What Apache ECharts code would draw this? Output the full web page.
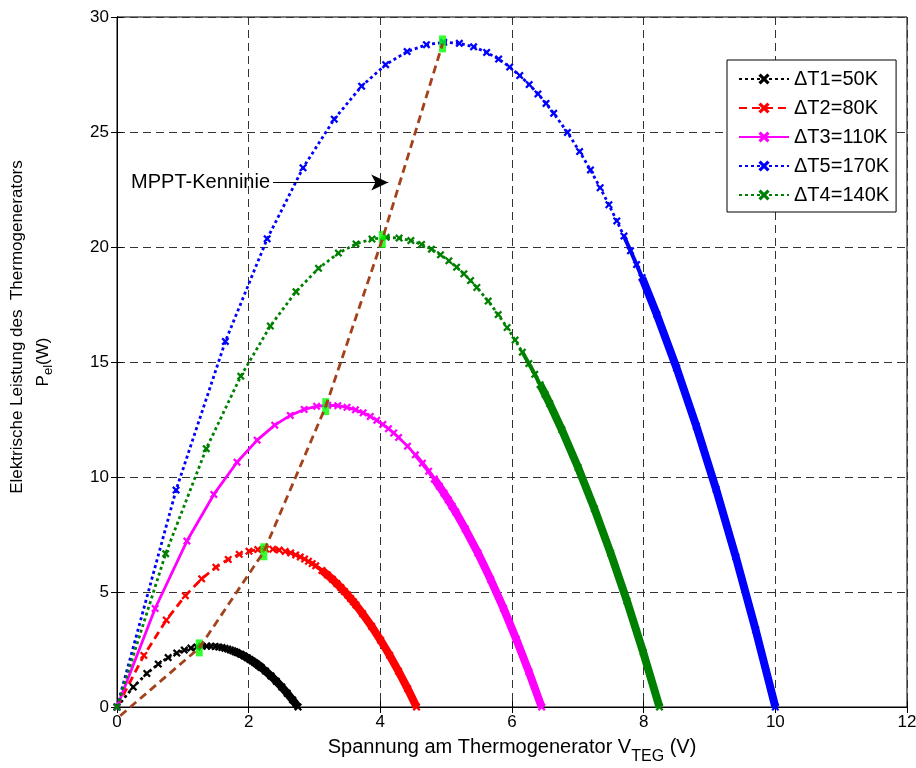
<!DOCTYPE html>
<html>
<head>
<meta charset="utf-8">
<script src="https://cdn.jsdelivr.net/npm/echarts@6.0.0/dist/echarts.min.js"></script>
<style>
  html, body { margin: 0; padding: 0; background: #fff; }
  #chart { width: 916px; height: 768px; }
</style>
</head>
<body>
<div id="chart"></div>
<script>
// values (V in volt, P in watt)
const t1V = [0, 0.247, 0.453, 0.627, 0.777, 0.908, 1.022, 1.122, 1.212, 1.293, 1.365, 1.430, 1.490, 1.544, 1.594, 1.640, 1.682, 1.722, 1.758, 1.792, 1.824, 1.882, 1.932, 1.978, 2.018, 2.055, 2.088, 2.118, 2.145, 2.170, 2.193, 2.255, 2.338, 2.420, 2.503, 2.585, 2.668, 2.750]
const t1P = [0, 0.865, 1.458, 1.867, 2.150, 2.344, 2.475, 2.561, 2.613, 2.640, 2.650, 2.646, 2.632, 2.610, 2.583, 2.551, 2.518, 2.481, 2.444, 2.406, 2.367, 2.291, 2.214, 2.141, 2.070, 2.002, 1.938, 1.877, 1.819, 1.764, 1.712, 1.565, 1.352, 1.119, 0.868, 0.598, 0.308, 0]

const t2V = [0, 0.408, 0.749, 1.038, 1.286, 1.502, 1.690, 1.857, 2.005, 2.139, 2.258, 2.366, 2.465, 2.555, 2.638, 2.714, 2.784, 2.849, 2.909, 2.965, 3.018, 3.113, 3.197, 3.272, 3.339, 3.400, 3.454, 3.504, 3.549, 3.591, 3.629, 3.731, 3.868, 4.004, 4.141, 4.277, 4.414, 4.550]
const t2P = [0, 2.242, 3.779, 4.839, 5.573, 6.076, 6.417, 6.639, 6.774, 6.845, 6.870, 6.859, 6.823, 6.766, 6.697, 6.614, 6.527, 6.433, 6.337, 6.238, 6.136, 5.939, 5.741, 5.551, 5.367, 5.191, 5.023, 4.867, 4.716, 4.573, 4.438, 4.056, 3.504, 2.902, 2.251, 1.550, 0.800, 0]

const t3V = [0, 0.579, 1.062, 1.471, 1.823, 2.129, 2.396, 2.632, 2.843, 3.032, 3.200, 3.354, 3.494, 3.622, 3.739, 3.847, 3.946, 4.038, 4.124, 4.203, 4.278, 4.413, 4.532, 4.639, 4.734, 4.819, 4.897, 4.967, 5.031, 5.090, 5.145, 5.289, 5.483, 5.676, 5.870, 6.063, 6.257, 6.450]
const t3P = [0, 4.282, 7.216, 9.242, 10.643, 11.603, 12.254, 12.679, 12.936, 13.073, 13.120, 13.099, 13.031, 12.920, 12.789, 12.632, 12.464, 12.285, 12.102, 11.913, 11.719, 11.341, 10.963, 10.601, 10.249, 9.913, 9.593, 9.294, 9.006, 8.733, 8.476, 7.746, 6.691, 5.542, 4.298, 2.960, 1.527, 0]

const t4V = [0, 0.739, 1.356, 1.880, 2.329, 2.719, 3.061, 3.363, 3.631, 3.873, 4.089, 4.285, 4.464, 4.627, 4.777, 4.914, 5.041, 5.159, 5.269, 5.370, 5.466, 5.638, 5.790, 5.926, 6.047, 6.157, 6.256, 6.346, 6.427, 6.503, 6.572, 6.757, 7.004, 7.251, 7.498, 7.746, 7.993, 8.240]
const t4P = [0, 6.665, 11.231, 14.384, 16.565, 18.059, 19.072, 19.734, 20.134, 20.346, 20.420, 20.387, 20.281, 20.110, 19.905, 19.660, 19.399, 19.121, 18.835, 18.541, 18.239, 17.651, 17.063, 16.499, 15.952, 15.429, 14.931, 14.466, 14.016, 13.592, 13.191, 12.056, 10.414, 8.625, 6.690, 4.607, 2.377, 0]

const t5V = [0, 0.897, 1.646, 2.281, 2.826, 3.300, 3.715, 4.081, 4.407, 4.700, 4.962, 5.200, 5.417, 5.615, 5.797, 5.964, 6.118, 6.261, 6.394, 6.517, 6.633, 6.842, 7.027, 7.192, 7.339, 7.472, 7.592, 7.701, 7.800, 7.892, 7.976, 8.200, 8.500, 8.800, 9.100, 9.400, 9.700, 10.000]
const t5P = [0, 9.433, 15.895, 20.357, 23.444, 25.559, 26.993, 27.929, 28.495, 28.796, 28.900, 28.854, 28.703, 28.461, 28.172, 27.825, 27.455, 27.062, 26.657, 26.241, 25.813, 24.981, 24.149, 23.351, 22.577, 21.837, 21.132, 20.473, 19.837, 19.236, 18.669, 17.063, 14.739, 12.207, 9.468, 6.520, 3.364, 0]

// maximum power points and the MPPT line through them
const mppV = [1.25, 2.23, 3.17, 4.03, 4.945]
const mppP = [2.57, 6.75, 13.06, 20.33, 28.83]
const mpptStartV = 0.05
const mpptStartP = -0.38

// annotation arrow "MPPT-Kenninie"
const arrowV = [2.37, 4.12]
const arrowP = 22.8

const FONT = 'Liberation Sans, Arial, sans-serif'
// MATLAB-like 'x' marker
const xMark = 'path://M0,2 L2,0 L5,3 L8,0 L10,2 L7,5 L10,8 L8,10 L5,7 L2,10 L0,8 L3,5 Z'

const curves = [
  { name: 'ΔT1=50K', v: t1V, p: t1P, color: '#000000', dash: [3, 3], tail: 19 },
  { name: 'ΔT2=80K', v: t2V, p: t2P, color: '#ff0000', dash: [8, 5], tail: 21 },
  { name: 'ΔT3=110K', v: t3V, p: t3P, color: '#ff00ff', dash: 'solid', tail: 25 },
  { name: 'ΔT5=170K', v: t5V, p: t5P, color: '#0000ff', dash: [3, 3], tail: 30 },
  { name: 'ΔT4=140K', v: t4V, p: t4P, color: '#008000', dash: [3, 3], tail: 28 },
]

const seriesList = []
curves.forEach((c) => {
  const pts = c.v.map((v, i) => [v, c.p[i]])
  seriesList.push({
    type: 'line',
    name: c.name,
    data: pts,
    symbol: xMark,
    symbolSize: 8,
    showAllSymbol: true,
    lineStyle: { color: c.color, width: 2.8, type: c.dash },
    itemStyle: { color: c.color },
    emphasis: { disabled: true },
    z: 2,
  })
  // the dense run of markers near open circuit reads as a band
  seriesList.push({
    type: 'line',
    data: pts.slice(c.tail - 3),
    symbol: 'none',
    lineStyle: { color: c.color, width: 4 },
    emphasis: { disabled: true },
    silent: true,
    z: 2,
  })
  seriesList.push({
    type: 'line',
    data: pts.slice(c.tail),
    symbol: 'none',
    lineStyle: { color: c.color, width: 8 },
    emphasis: { disabled: true },
    silent: true,
    z: 2,
  })
})

seriesList.push({
  type: 'scatter',
  data: mppV.map((v, i) => [v, mppP[i]]),
  symbol: 'rect',
  symbolSize: [7, 17],
  itemStyle: { color: '#00ff00' },
  silent: true,
  z: 3,
})

seriesList.push({
  type: 'line',
  data: [[mpptStartV, mpptStartP]].concat(mppV.map((v, i) => [v, mppP[i]])),
  symbol: 'none',
  clip: false,
  lineStyle: { color: '#a3421a', width: 2.8, type: [8, 5] },
  emphasis: { disabled: true },
  silent: true,
  z: 4,
  markLine: {
    silent: true,
    animation: false,
    symbol: ['none', 'arrow'],
    symbolSize: [12, 17],
    lineStyle: { color: '#000', width: 1, type: 'solid' },
    label: {
      show: true,
      position: 'start',
      distance: 3,
      formatter: 'MPPT-Kenninie',
      color: '#000',
      fontSize: 20,
      fontFamily: FONT,
    },
    data: [[{ coord: [arrowV[0], arrowP] }, { coord: [arrowV[1], arrowP] }]],
  },
})

const gridLine = { show: true, lineStyle: { color: '#333', width: 1, type: [8, 5] } }
const tickIn = { show: true, inside: true, length: 6, lineStyle: { color: '#000' } }
const axisLineBlack = { show: true, lineStyle: { color: '#000', width: 1 } }

const option = {
  animation: false,
  backgroundColor: '#fff',
  grid: {
    left: 117, right: 9, top: 17, bottom: 61,
    outerBoundsMode: 'none',
    show: true, borderColor: '#000', borderWidth: 1,
  },
  legend: {
    data: curves.map((c) => c.name),
    orient: 'vertical',
    left: 727,
    top: 60,
    itemWidth: 50,
    itemHeight: 14,
    itemGap: 9,
    padding: [9, 7, 7, 11],
    borderColor: '#000',
    borderWidth: 1,
    borderRadius: 0,
    backgroundColor: '#fff',
    selectedMode: false,
    textStyle: { fontSize: 20, lineHeight: 20, color: '#000', fontFamily: FONT },
  },
  xAxis: [
    {
      type: 'value', min: 0, max: 12, interval: 2,
      name: '{t|Spannung am Thermogenerator V}{s|TEG}{t| (V)}',
      nameLocation: 'middle',
      nameGap: 28,
      nameTextStyle: {
        rich: {
          t: { fontSize: 20, height: 24, verticalAlign: 'top', color: '#000', fontFamily: FONT },
          s: { fontSize: 16, height: 44, verticalAlign: 'top', color: '#000', fontFamily: FONT },
        },
      },
      axisLine: axisLineBlack,
      axisTick: tickIn,
      axisLabel: { fontSize: 17, color: '#000', margin: 7, fontFamily: FONT },
      splitLine: gridLine,
    },
    {
      type: 'value', min: 0, max: 12, interval: 2, position: 'top',
      axisLine: axisLineBlack, axisTick: tickIn,
      axisLabel: { show: false }, splitLine: { show: false },
    },
  ],
  yAxis: [
    {
      type: 'value', min: 0, max: 30, interval: 5,
      name: '{l|Elektrische Leistung des  Thermogenerators}\n{p|P}{s|el}{p|(W)}',
      nameLocation: 'middle',
      nameGap: 51,
      nameTextStyle: {
        rich: {
          l: { fontSize: 17, height: 26, verticalAlign: 'top', padding: [0, 0, 0, 70], color: '#000', fontFamily: FONT },
          p: { fontSize: 17, height: 26, verticalAlign: 'top', color: '#000', fontFamily: FONT },
          s: { fontSize: 13, height: 36, verticalAlign: 'top', color: '#000', fontFamily: FONT },
        },
      },
      axisLine: axisLineBlack,
      axisTick: tickIn,
      axisLabel: { fontSize: 17, color: '#000', margin: 8, fontFamily: FONT },
      splitLine: gridLine,
    },
    {
      type: 'value', min: 0, max: 30, interval: 5, position: 'right',
      axisLine: axisLineBlack, axisTick: tickIn,
      axisLabel: { show: false }, splitLine: { show: false },
    },
  ],
  series: seriesList,
}

const myChart = echarts.init(document.getElementById('chart'))
myChart.setOption(option)
</script>
</body>
</html>
